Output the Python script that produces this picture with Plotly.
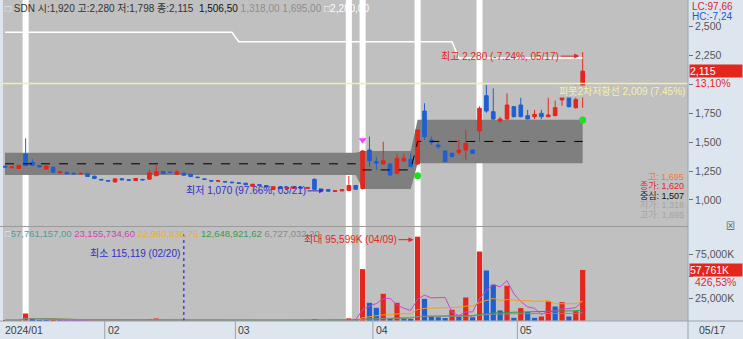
import plotly.graph_objects as go
import pandas as pd

# ------------------------------------------------------------------ data
holidays = ["2024-02-09", "2024-02-12", "2024-03-01", "2024-04-10",
            "2024-05-01", "2024-05-06", "2024-05-15"]
dates = [d for d in pd.bdate_range("2024-01-11", "2024-05-17")
         if d.strftime("%Y-%m-%d") not in holidays]

opens = [1292, 1278, 1272, 1398, 1326, 1298, 1268, 1284, 1236, 1240,
         1230, 1226, 1230, 1206, 1178, 1168, 1156, 1184, 1175, 1168,
         1178, 1180, 1210, 1246, 1242, 1222, 1232, 1222, 1198, 1182,
         1168, 1162, 1160, 1154, 1148, 1145, 1118, 1132, 1125, 1090,
         1112, 1098, 1100, 1112, 1100, 1179, 1094, 1090, 1074, 1078,
         1082, 1125, 1100, 1433, 1331, 1311, 1311, 1230, 1337, 1352,
         1311, 1770, 1519, 1476, 1424, 1404, 1412, 1432, 1432, 1597,
         1903, 1764, 1684, 1701, 1808, 1822, 1730, 1721, 1750, 1721,
         1730, 1866, 1909, 1799, 1920]
highs = [1295, 1290, 1304, 1534, 1352, 1300, 1297, 1286, 1252, 1244,
         1238, 1240, 1232, 1208, 1182, 1174, 1185, 1188, 1178, 1188,
         1182, 1262, 1300, 1250, 1246, 1262, 1236, 1226, 1202, 1186,
         1172, 1174, 1164, 1158, 1152, 1148, 1140, 1136, 1128, 1118,
         1116, 1110, 1116, 1116, 1112, 1185, 1098, 1094, 1084, 1092,
         1207, 1130, 1430, 1548, 1374, 1504, 1318, 1404, 1404, 1404,
         1610, 1837, 1548, 1490, 1430, 1410, 1519, 1606, 1440, 1810,
         1995, 1967, 1720, 1924, 1812, 1885, 1780, 1780, 1780, 1885,
         1860, 1967, 1912, 1995, 2280]
lows = [1282, 1275, 1268, 1295, 1296, 1282, 1263, 1232, 1228, 1222,
        1218, 1220, 1200, 1182, 1168, 1158, 1152, 1172, 1166, 1165,
        1170, 1178, 1206, 1225, 1234, 1220, 1212, 1200, 1188, 1172,
        1158, 1158, 1150, 1144, 1138, 1128, 1114, 1120, 1108, 1086,
        1094, 1094, 1096, 1098, 1096, 1088, 1082, 1070, 1072, 1076,
        1078, 1088, 1090, 1288, 1262, 1308, 1212, 1226, 1335, 1285,
        1305, 1519, 1476, 1440, 1328, 1370, 1390, 1346, 1400, 1504,
        1755, 1690, 1670, 1695, 1715, 1715, 1698, 1700, 1700, 1715,
        1725, 1816, 1800, 1790, 1798]
closes = [1285, 1286, 1300, 1297, 1300, 1286, 1294, 1240, 1242, 1226,
          1226, 1230, 1203, 1186, 1174, 1164, 1183, 1175, 1171, 1186,
          1174, 1236, 1245, 1228, 1238, 1245, 1214, 1202, 1194, 1178,
          1164, 1166, 1156, 1150, 1144, 1132, 1136, 1126, 1112, 1115,
          1098, 1106, 1112, 1102, 1108, 1092, 1090, 1076, 1080, 1088,
          1125, 1093, 1424, 1340, 1320, 1340, 1216, 1360, 1360, 1288,
          1606, 1548, 1500, 1462, 1331, 1375, 1432, 1490, 1404, 1793,
          1770, 1701, 1701, 1822, 1721, 1721, 1701, 1741, 1721, 1736,
          1799, 1915, 1808, 1870, 2115]
volumes = [620000, 480000, 850000, 8300000, 1450000, 560000, 520000, 760000, 410000, 390000,
           330000, 300000, 540000, 620000, 380000, 350000, 560000, 310000, 280000, 420000,
           260000, 1300000, 2600000, 700000, 310000, 520000, 115119, 380000, 260000, 330000,
           300000, 240000, 270000, 220000, 260000, 300000, 330000, 200000, 260000, 350000,
           300000, 220000, 280000, 240000, 230000, 1500000, 600000, 450000, 300000, 420000,
           2800000, 1200000, 58750000, 20450000, 14770000, 30680000, 3000000, 20450000, 2500000, 2000000,
           95599000, 25000000, 4900000, 4000000, 3200000, 12500000, 4500000, 26500000, 4000000, 78750000,
           57150000, 40900000, 11700000, 39800000, 3400000, 14400000, 9900000, 3400000, 4900000, 21900000,
           16300000, 21250000, 4900000, 10970070, 57761157]

# price boxes (start index, end index, high, low, centre)
box_start = [0, 52, 60]
box_end = [51, 59, 84]
box_high = [1409, 1424, 1695]
box_low = [1216, 1095, 1318]
box_mid = [1313, 1260, 1506.5]
box_prev_close = 1620

# white step line (upper limit line)
lc_start = [0, 34, 66]
lc_end = [33, 65, 84]
lc_level = [2451, 2370, 2228]

# highlighted days (white columns)
event_idx = [3, 50, 52, 60, 69]

# signals
sig_idx = [52, 60, 84]
sig_price = [1519, 1210, 1692]
sig_color = ["#ff3cff", "#22dd22", "#22dd22"]
sig_symbol = ["triangle-down", "circle", "circle"]

pivot_r2 = 2009
pivot_pct = 7.45

vol_ma_windows = [5, 20, 60, 120]
vol_ma_colors = ["#c848c8", "#f0a020", "#2f9a4a", "#8c8c8c"]
vol_ma_readout = [23155734.60, 22980836.75, 12648921.62, 6727032.20]
vol_header_colors = ["#4e9c9c", "#d040b0", "#e8b030", "#3a9a50", "#8a8a8a"]

price_ticks = [1000, 1250, 1500, 1750, 2000, 2250, 2500]
price_ticks_hidden = [2000]          # covered by the change-% readout
vol_ticks_k = [25000, 75000]

# ------------------------------------------------------------------ helpers
W, H = 743, 339
RED = "#e4261c"
BLUE = "#1f5fd0"
PANEL = "#dde6ef"
FONT = "Liberation Sans, Noto Sans CJK KR, sans-serif"


def num(v, d=0):
    if d == 0:
        return f"{int(v + 0.5):,d}" if v >= 0 else f"{v:,.0f}"
    s = f"{v:,.{d}f}"
    head, tail = s.rsplit(".", 1)
    return head + "," + tail


def py(px):  # paper y from pixel
    return (H - px) / H


def pxx(px):
    return px / W


n = len(dates)
idx = list(range(n))
box_top = [0] * n
box_bot = [0] * n
box_c = [0] * n
for s, e, hi, lo, m in zip(box_start, box_end, box_high, box_low, box_mid):
    for i in range(s, e + 1):
        box_top[i], box_bot[i], box_c[i] = hi, lo, m
lc_line = [0] * n
for s, e, lv in zip(lc_start, lc_end, lc_level):
    for i in range(s, e + 1):
        lc_line[i] = lv

vol_k = [v / 1000 for v in volumes]
vol_colors = [RED] + [RED if volumes[i] >= volumes[i - 1] else BLUE for i in range(1, n)]
vs = pd.Series(vol_k)
vol_mas = [vs.rolling(w, min_periods=1).mean() for w in vol_ma_windows]

last = n - 1
lo_i = min(idx, key=lambda i: lows[i])
hi_i = max(idx, key=lambda i: highs[i])
vmax_i = max(idx, key=lambda i: volumes[i])
vmin_i = min(idx, key=lambda i: volumes[i])
lc_pct = (closes[last] - lows[lo_i]) / lows[lo_i] * 100
hc_pct = (closes[last] - highs[hi_i]) / highs[hi_i] * 100
chg_pct = (closes[last] - closes[last - 1]) / closes[last - 1] * 100
vchg_pct = (volumes[last] - volumes[last - 1]) / volumes[last - 1] * 100

# axis ranges from pixel calibration
x_px0, x_step = 5.0, 6.877
xr = [(3 - x_px0) / x_step, (688 - x_px0) / x_step]
p_at = lambda y: 2731.2 - 8.658 * y
yr = [p_at(226), p_at(0)]
v_at = lambda y: (320.8 - y) * 1136.4
y2r = [v_at(321), v_at(227)]

fig = go.Figure()

# ---------------- shapes
shapes = []
path = "M " + " L ".join(f"{i},{box_top[i]}" for i in idx)
path += " L " + " L ".join(f"{i},{box_bot[i]}" for i in reversed(idx)) + " Z"
shapes.append(dict(type="path", path=path, xref="x", yref="y",
                   fillcolor="#7f7f7f", line=dict(width=0), layer="below"))
for e in event_idx:
    for yr_ in ["y domain", "y2 domain"]:
        shapes.append(dict(type="rect", xref="x", yref=yr_, x0=e - 0.44, x1=e + 0.44,
                           y0=0, y1=1, fillcolor="white", line=dict(width=0), layer="below"))
shapes.append(dict(type="line", xref="paper", yref="y", x0=0, x1=pxx(688),
                   y0=pivot_r2, y1=pivot_r2, line=dict(color="#f2f0a0", width=1.5), layer="above"))
shapes.append(dict(type="line", xref="x", yref="y2 domain", x0=vmin_i, x1=vmin_i, y0=0, y1=0.95,
                   line=dict(color="#4848c8", width=1.5, dash="dot"), layer="above"))
# panel separators
shapes.append(dict(type="line", xref="paper", yref="paper", x0=0, x1=pxx(688),
                   y0=py(226.5), y1=py(226.5), line=dict(color="#9a9a9a", width=1)))
shapes.append(dict(type="line", xref="paper", yref="paper", x0=0, x1=1,
                   y0=py(321), y1=py(321), line=dict(color="#9aa4ae", width=1)))
shapes.append(dict(type="line", xref="paper", yref="paper", x0=pxx(688), x1=pxx(688),
                   y0=0, y1=1, line=dict(color="#9aa4ae", width=1)))
# month separators in the date strip
month_starts = [0] + [i for i in range(1, n) if dates[i].month != dates[i - 1].month]
for m in month_starts[1:]:
    shapes.append(dict(type="line", xref="x", yref="paper", x0=m - 0.5, x1=m - 0.5,
                       y0=0, y1=py(321), line=dict(color="#9aa4ae", width=1)))

# ---------------- traces
fig.add_trace(go.Candlestick(
    x=idx, open=opens, high=highs, low=lows, close=closes,
    increasing=dict(line=dict(color=RED, width=1), fillcolor=RED),
    decreasing=dict(line=dict(color=BLUE, width=1), fillcolor=BLUE),
    whiskerwidth=0, hoverinfo="skip", xaxis="x", yaxis="y"))
fig.add_trace(go.Scatter(x=idx, y=box_c, mode="lines",
                         line=dict(color="black", width=1, dash="dash"),
                         hoverinfo="skip", yaxis="y"))
fig.add_trace(go.Scatter(x=idx, y=lc_line, mode="lines",
                         line=dict(color="white", width=1.5), hoverinfo="skip", yaxis="y"))
fig.add_trace(go.Scatter(x=sig_idx, y=sig_price, mode="markers",
                         marker=dict(color=sig_color, symbol=sig_symbol, size=7, line=dict(width=0)),
                         hoverinfo="skip", yaxis="y"))
fig.add_trace(go.Bar(x=idx, y=vol_k, marker=dict(color=vol_colors, line=dict(width=0)),
                     width=0.76, hoverinfo="skip", yaxis="y2"))
for ma, col in zip(vol_mas, vol_ma_colors):
    fig.add_trace(go.Scatter(x=idx, y=ma, mode="lines", line=dict(color=col, width=1),
                             hoverinfo="skip", yaxis="y2"))

# ---------------- annotations
ann = []


def A(**k):
    base = dict(showarrow=False, font=dict(family=FONT, size=10))
    base.update(k)
    ann.append(base)


hdr = (f'<span style="color:#eeeeee">□</span> '
       f'SDN 시:{num(opens[last])} 고:{num(highs[last])} 저:{num(lows[last])} 종:{num(closes[last])}  '
       f'<span style="color:#111">{num(box_mid[-1], 2)}</span> '
       f'<span style="color:#8e8e8e">{num(box_low[-1], 2)} {num(box_high[-1], 2)}</span> '
       f'<span style="color:#ffffff">□{num(highs[hi_i], 2)}</span>')
A(text=hdr, xref="paper", yref="paper", x=pxx(3), y=py(8), xanchor="left", yanchor="middle",
  font=dict(family=FONT, size=10, color="#333333"))

vals = [volumes[last]] + vol_ma_readout
vh = f'<span style="color:#eeeeee">□</span>'
vh += " ".join(f'<span style="color:{c}">{num(v, 2)}</span>' for v, c in zip(vals, vol_header_colors))
A(text=vh, xref="paper", yref="paper", x=pxx(3), y=py(233), xanchor="left", yanchor="middle",
  font=dict(family=FONT, size=9.5))

A(text=f"최고 {num(highs[hi_i])} ({hc_pct:.2f}%, {dates[hi_i].strftime('%m/%d')})",
  xref="x", yref="y", x=hi_i - 0.5, y=highs[hi_i], showarrow=True, ax=-79, ay=0, yshift=-4,
  arrowhead=2, arrowsize=1, arrowwidth=1, arrowcolor=RED, font=dict(family=FONT, size=10, color=RED))
A(text=f"최저 {num(lows[lo_i])} ({lc_pct:.2f}%, {dates[lo_i].strftime('%m/%d')})",
  xref="x", yref="y", x=lo_i - 0.6, y=lows[lo_i], showarrow=True, ax=-78, ay=0, yshift=1,
  arrowhead=2, arrowsize=1, arrowwidth=1, arrowcolor="#3030c8", font=dict(family=FONT, size=10, color="#3030c8"))
A(text=f"피봇2차저항선 {num(pivot_r2)} ({pivot_pct:.2f}%)", xref="paper", yref="y",
  x=pxx(686), y=pivot_r2, yshift=-8, xanchor="right", yanchor="middle", bgcolor="#c0c0c0", borderpad=0,
  font=dict(family=FONT, size=10, color="#f6f0a8"))
A(text=f"최대 {num(volumes[vmax_i] / 1000)}K ({dates[vmax_i].strftime('%m/%d')})",
  xref="x", yref="y2", x=vmax_i - 0.6, y=vol_k[vmax_i], showarrow=True, ax=-63, ay=0, yshift=-3,
  arrowhead=2, arrowsize=1, arrowwidth=1, arrowcolor=RED, font=dict(family=FONT, size=10, color=RED))
A(text=f"최소 {num(volumes[vmin_i])} ({dates[vmin_i].strftime('%m/%d')})",
  xref="x", yref="paper", x=vmin_i - 0.3, y=py(253), xanchor="right", yanchor="middle",
  font=dict(family=FONT, size=10, color="#3030c8"))

# right-side readouts
A(text=f"LC:{num(lc_pct, 2)}", xref="paper", yref="paper", x=pxx(690), y=py(6.5), xanchor="left",
  yanchor="middle", font=dict(family=FONT, size=10, color="#d02828"))
A(text=f"HC:{num(hc_pct, 2)}", xref="paper", yref="paper", x=pxx(690), y=py(16.5), xanchor="left",
  yanchor="middle", font=dict(family=FONT, size=10, color="#2458c8"))
A(text=num(closes[last]), xref="paper", yref="y", x=pxx(689), y=closes[last], xanchor="left",
  yanchor="middle", bgcolor="#e4261c", width=52, height=12, align="left", borderpad=0,
  font=dict(family=FONT, size=10.5, color="white"))
A(text=f"{num(chg_pct, 2)}%", xref="paper", yref="y", x=pxx(693), y=closes[last], yshift=-12,
  xanchor="left", yanchor="middle", font=dict(family=FONT, size=10.5, color="#e4261c"))
A(text=f"{num(volumes[last] / 1000)}K", xref="paper", yref="y2", x=pxx(689), y=vol_k[last],
  xanchor="left", yanchor="middle", bgcolor="#e4261c", width=52, height=12, align="left", borderpad=0,
  font=dict(family=FONT, size=10.5, color="white"))
A(text=f"{num(vchg_pct, 2)}%", xref="paper", yref="y2", x=pxx(693), y=vol_k[last], yshift=-12,
  xanchor="left", yanchor="middle", font=dict(family=FONT, size=10.5, color="#e4261c"))
A(text="⊠", xref="paper", yref="paper", x=pxx(737), y=py(233), font=dict(family=FONT, size=9, color="#555"))

# box readouts at the bottom right of the price panel
box_lbl = [("고", box_high[-1], "#f07a30"), ("종가", box_prev_close, "#e02828"),
           ("중심", box_mid[-1], "#111111"), ("저가", box_low[-1], "#a4a4a4"),
           ("고가", box_high[-1], "#a4a4a4")]
for k, (t, v, c) in enumerate(box_lbl):
    A(text=f"{t}: {num(v)}", xref="paper", yref="paper", x=pxx(686), y=py(177 + 9.5 * k),
      xanchor="right", yanchor="middle", font=dict(family=FONT, size=9, color=c))

# date strip labels
for j, m in enumerate(month_starts):
    if j == 0:
        A(text=dates[m].strftime("%Y/%m"), xref="paper", yref="paper", x=pxx(3), y=py(330),
          xanchor="left", yanchor="middle", font=dict(family=FONT, size=10.5, color="#404040"))
    else:
        A(text=dates[m].strftime("%m"), xref="x", yref="paper", x=m - 0.5, xshift=1, y=py(330),
          xanchor="left", yanchor="middle", font=dict(family=FONT, size=10.5, color="#404040"))
A(text=dates[last].strftime("%m/%d"), xref="paper", yref="paper", x=pxx(697), y=py(330),
  xanchor="left", yanchor="middle", font=dict(family=FONT, size=10.5, color="#404040"))

fig.update_layout(
    width=W, height=H, margin=dict(l=0, r=0, t=0, b=0),
    paper_bgcolor=PANEL, plot_bgcolor="#c0c0c0", showlegend=False,
    barmode="overlay", boxgap=0.25, shapes=shapes, annotations=ann,
    xaxis=dict(domain=[pxx(3), pxx(688)], range=xr, anchor="y2", showticklabels=False,
               showgrid=False, zeroline=False, ticks="", rangeslider=dict(visible=False)),
    yaxis=dict(domain=[py(226), 1], range=yr, side="right", anchor="x",
               tickvals=price_ticks,
               ticktext=["" if t in price_ticks_hidden else num(t) for t in price_ticks],
               ticks="outside", ticklen=4, tickcolor="#707070", showgrid=False, zeroline=False,
               tickfont=dict(family=FONT, size=10.5, color="#555555")),
    yaxis2=dict(domain=[py(321), py(227)], range=y2r, side="right", anchor="x",
                tickvals=vol_ticks_k + [50000], ticktext=[f"{num(t)}K" for t in vol_ticks_k] + [""],
                ticks="outside", ticklen=4, tickcolor="#707070", showgrid=False, zeroline=False,
                tickfont=dict(family=FONT, size=10.5, color="#555555")),
)

fig.write_html("out.html", config={"displayModeBar": False})
